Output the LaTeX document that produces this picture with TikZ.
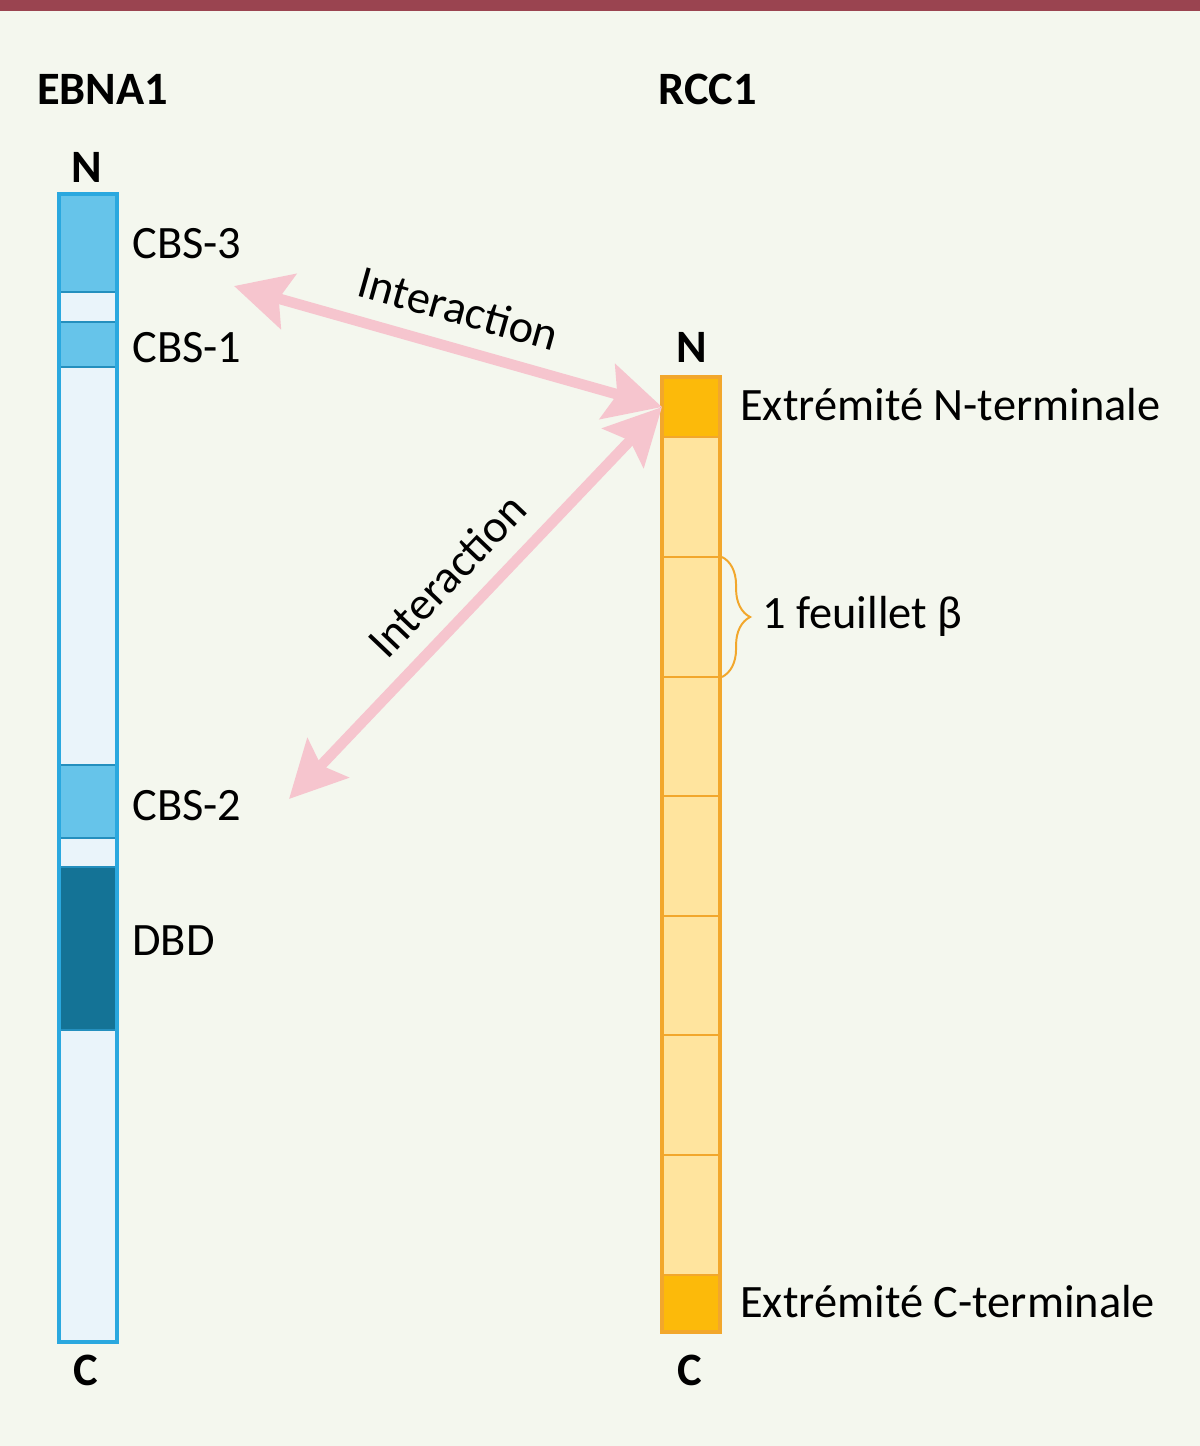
\documentclass[tikz,border=0pt]{standalone}
\usepackage{fontspec}
\setmainfont{Carlito}
\usetikzlibrary{arrows.meta,decorations.pathreplacing}
\definecolor{bgc}{HTML}{F4F7EE}
\definecolor{topbar}{HTML}{9A4450}
\definecolor{ecyan}{HTML}{2AA8DF}
\definecolor{ecbs}{HTML}{66C4EA}
\definecolor{elight}{HTML}{EAF4FA}
\definecolor{edbd}{HTML}{147396}
\definecolor{rorange}{HTML}{F2A72C}
\definecolor{rlight}{HTML}{FFE49E}
\definecolor{rdark}{HTML}{FCBA0A}
\definecolor{ipink}{HTML}{F6C5CE}
\tikzset{lbl/.style={font=\fontsize{33}{40}\selectfont, inner sep=0pt, anchor=base west},
         ttl/.style={font=\fontsize{33}{40}\selectfont\bfseries, inner sep=0pt, anchor=base west},
         term/.style={font=\fontsize{33}{40}\selectfont\bfseries, inner sep=0pt, anchor=base},
         ebar/.style={draw=ecyan, line width=2.2pt},
         esep/.style={draw=ecyan!85!black, line width=1.2pt},
         rbar/.style={draw=rorange, line width=2.2pt},
         rsep/.style={draw=rorange, line width=1.6pt},
         rend/.style={fill=rdark, draw=none, inner sep=0pt, outer sep=0pt, anchor=north west, minimum width=1.45cm},
         iarrow/.style={draw=ipink, line width=7.5pt,
                        {Stealth[length=40pt,width=40pt,inset=7pt]}-{Stealth[length=40pt,width=40pt,inset=7pt]}},
         brc/.style={draw=rorange, line width=1.4pt, decorate, decoration={brace, amplitude=20pt}}}

\begin{document}
\begin{tikzpicture}[x=0.025cm, y=-0.025cm]

  \useasboundingbox (0,0) rectangle (1200,1446);
  \fill[bgc] (0,0) rectangle (1200,1446);
  \fill[topbar] (0,0) rectangle (1200,11);

  % ---------- EBNA1 ----------
  \node[ttl] (ebna) at (37,105) {EBNA1};
  \node[term] (ebnaN) at (87,182) {N};
  \node[term] (ebnaC) at (86,1385) {C};
  \fill[elight] (59,194) rectangle (117,1342);
  \fill[ecbs] (59,194) rectangle (117,292);     % CBS-3
  \fill[ecbs] (59,322) rectangle (117,367);     % CBS-1
  \fill[ecbs] (59,765) rectangle (117,838);     % CBS-2
  \fill[edbd] (59,867) rectangle (117,1030);    % DBD
  \foreach \y in {292,322,367,765,838,867,1030}
    \draw[esep] (59,\y) -- (117,\y);
  \draw[ebar] (59,194) rectangle (117,1342);
  \node[lbl] (cbs3) at (132,258) {CBS-3};
  \node[lbl] (cbs1) at (132,362) {CBS-1};
  \node[lbl] (cbs2) at (132,820) {CBS-2};
  \node[lbl] (dbd)  at (132,955) {DBD};

  % ---------- RCC1 ----------
  \node[ttl] (rcc) at (658,105) {RCC1};
  \node[term] (rccN) at (692,362) {N};
  \node[term] (rccC) at (690,1385) {C};
  \fill[rlight] (662,377) rectangle (720,1332);
  \node[rend, minimum height=1.5cm] (nterm) at (662,377) {};
  \node[rend, minimum height=1.425cm] (cterm) at (662,1275) {};
  \foreach \y in {437,557,677,796,916,1035,1155,1275}
    \draw[rsep] (662,\y) -- (720,\y);
  \draw[rbar] (662,377) rectangle (720,1332);
  \node[lbl] (ntxt) at (740,420) {Extrémité N-terminale};
  \node[lbl] (ctxt) at (740,1317) {Extrémité C-terminale};

  % one beta sheet
  \draw[brc] (722,557) -- (722,677);
  \node[lbl] (feuil) at (762,628) {1 feuillet β};

  % ---------- interactions ----------
  \coordinate (cbs3end) at (234,286);
  \coordinate (cbs2end) at (289,799);
  \draw[iarrow] (cbs3end) -- node[pos=0.5, sloped, above=13pt, lbl, anchor=south] {Interaction} (nterm.west);
  \draw[iarrow] (cbs2end) -- node[pos=0.5, sloped, above=13pt, lbl, anchor=south] {Interaction} (nterm.west);

\end{tikzpicture}
\end{document}
